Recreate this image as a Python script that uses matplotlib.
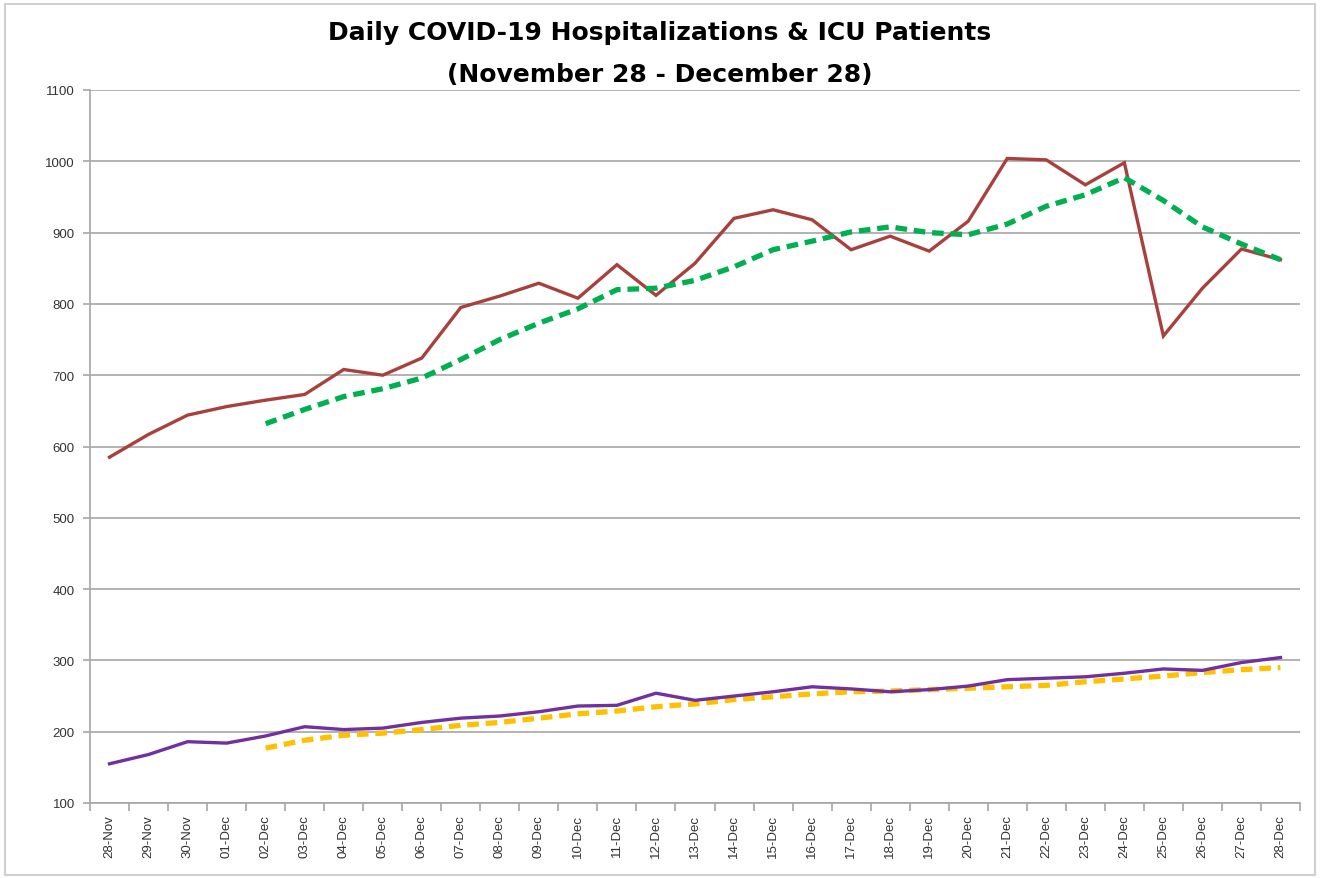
import matplotlib
matplotlib.use("Agg")
import matplotlib.pyplot as plt
import numpy as np
from matplotlib.patches import Rectangle

dates = ["28-Nov", "29-Nov", "30-Nov"] + [f"{d:02d}-Dec" for d in range(1, 29)]

hospitalized = [585, 617, 644, 656, 665, 673, 708, 700, 724, 795, 811, 829, 808, 855, 812,
                857, 920, 932, 918, 876, 895, 874, 916, 1004, 1002, 967, 998, 755, 822, 877, 862]
hosp_avg = [None, None, None, None, 632, 652, 670, 681, 696, 722, 750, 773, 793, 820, 822,
            833, 852, 876, 888, 901, 908, 900, 897, 912, 937, 953, 977, 945, 908, 884, 862]
icu = [155, 168, 186, 184, 194, 207, 203, 205, 213, 219, 222, 228, 236, 237, 254,
       244, 250, 256, 263, 260, 256, 259, 264, 273, 275, 277, 282, 288, 286, 297, 304]
icu_avg = [None, None, None, None, 177, 188, 195, 198, 203, 209, 213, 219, 225, 229, 235,
           239, 245, 249, 253, 256, 257, 259, 261, 263, 265, 270, 274, 278, 283, 287, 290]

yticks = list(range(100, 1101, 100))

def arr(v):
    return np.array([np.nan if x is None else x for x in v], dtype=float)

fig = plt.figure(figsize=(13.2, 8.79), dpi=100)
fig.patch.set_facecolor("white")
fig.patches.append(Rectangle((0.004, 0.003), 0.992, 0.991, transform=fig.transFigure,
                             fill=False, edgecolor="#d0d0d0", linewidth=1.5))

ax = fig.add_axes([90/1320, 1-804/879, 1210/1320, (804-91)/879])
x = np.arange(len(dates))

ax.plot(x, arr(hospitalized), color="#A8413D", linewidth=2.4, zorder=3, solid_joinstyle="miter")
ax.plot(x, arr(hosp_avg), color="#00B050", linewidth=3.8, linestyle=(0, (2.2, 1.3)), zorder=4)
ax.plot(x, arr(icu), color="#7030A0", linewidth=2.4, zorder=3)
ax.plot(x, arr(icu_avg), color="#FFC000", linewidth=3.8, linestyle=(0, (2.2, 1.3)), zorder=2)

ax.set_xlim(-0.5, len(dates) - 0.5)
ax.set_ylim(100, 1100)
ax.set_yticks(yticks)
ax.set_yticklabels([str(t) for t in yticks], fontsize=9.5, color="#333333", fontfamily="Liberation Sans")
ax.yaxis.grid(True, color="#a6a6a6", linewidth=1.2)
ax.set_axisbelow(True)

ax.set_xticks(x)
ax.set_xticklabels(dates, rotation=90, fontsize=9.5, color="#333333", fontfamily="Liberation Sans")
ax.set_xticks(np.arange(len(dates) + 1) - 0.5, minor=True)
ax.tick_params(axis="x", which="major", length=0, pad=8)
ax.tick_params(axis="x", which="minor", length=6, color="#a6a6a6", width=1.2)
ax.tick_params(axis="y", length=5, color="#a6a6a6", width=1.2, pad=6)

for s in ["top", "right"]:
    ax.spines[s].set_visible(False)
for s in ["left", "bottom"]:
    ax.spines[s].set_color("#a6a6a6")
    ax.spines[s].set_linewidth(1.2)

fig.text(0.5, 1-33/879, "Daily COVID-19 Hospitalizations & ICU Patients", ha="center", va="center",
         fontsize=18, fontweight="bold", fontfamily=["Liberation Sans Narrow", "DejaVu Sans"])
fig.text(0.5, 1-75/879, "(November 28 - December 28)", ha="center", va="center",
         fontsize=18, fontweight="bold", fontfamily=["Liberation Sans Narrow", "DejaVu Sans"])

fig.savefig("out.png", dpi=100, facecolor="white")
